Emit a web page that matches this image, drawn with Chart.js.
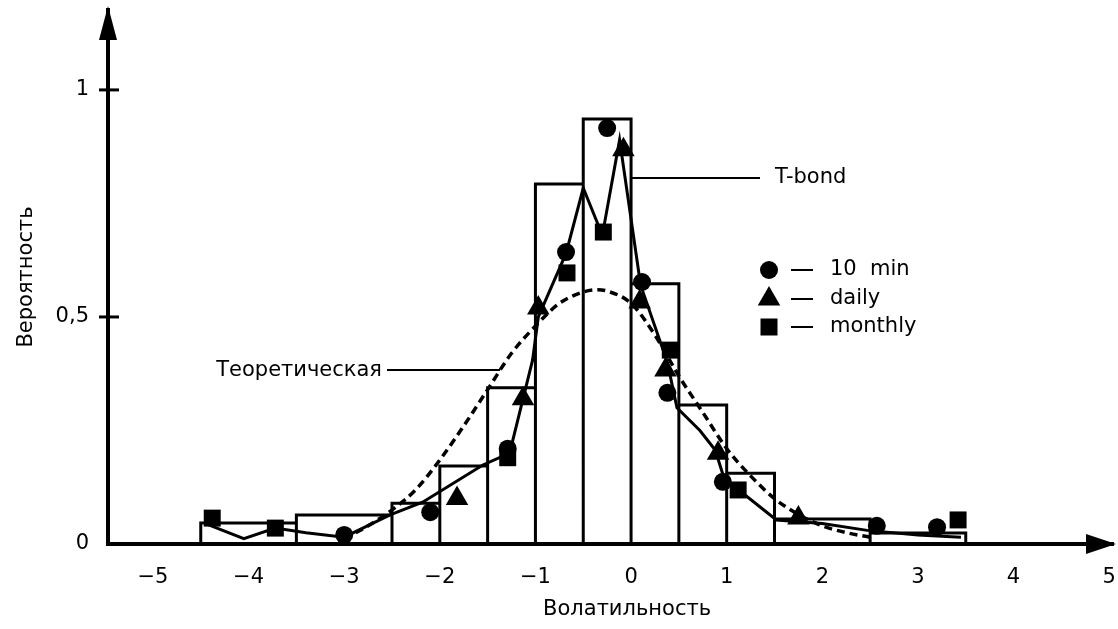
<!DOCTYPE html>
<html>
<head>
<meta charset="utf-8">
<script src="https://cdn.jsdelivr.net/npm/chart.js@4.4.1/dist/chart.umd.min.js"></script>
<style>
  body { margin: 0; background: #fff; }
  canvas { display: block; }
</style>
</head>
<body>
<canvas id="chart" width="1118" height="629"></canvas>
<script>
// T-bond histogram: bin edges and heights
const binLo = [-4.5, -3.5, -2.5, -2, -1.5, -1, -0.5, 0, 0.5, 1, 1.5, 2.5];
const binHi = [-3.5, -2.5, -2, -1.5, -1, -0.5, 0, 0.5, 1, 1.5, 2.5, 3.5];
const binH = [0.046, 0.064, 0.09, 0.172, 0.344, 0.793, 0.936, 0.573, 0.306, 0.156, 0.055, 0.024];

// theoretical density (dashed)
const theoX = [-3.0, -2.75, -2.5, -2.25, -2.0, -1.75, -1.5, -1.25, -1.0, -0.75, -0.5, -0.35, -0.25, 0.0, 0.25, 0.5, 0.75, 1.0, 1.25, 1.5, 1.75, 2.0, 2.25, 2.5];
const theoY = [0.012, 0.04, 0.075, 0.12, 0.185, 0.26, 0.34, 0.42, 0.48, 0.53, 0.555, 0.56, 0.557, 0.53, 0.46, 0.37, 0.29, 0.21, 0.15, 0.10, 0.065, 0.04, 0.025, 0.015];

// empirical curve (solid)
const curveX = [-4.45, -4.05, -3.72, -3.4, -3.0, -2.52, -2.18, -1.55, -1.27, -1.03, -0.97, -0.68, -0.5, -0.3, -0.12, 0.1, 0.38, 0.48, 0.72, 0.88, 0.98, 1.12, 1.52, 2.0, 2.47, 3.0, 3.45];
const curveY = [0.045, 0.012, 0.035, 0.025, 0.015, 0.064, 0.092, 0.174, 0.2, 0.405, 0.5, 0.64, 0.784, 0.68, 0.89, 0.57, 0.40, 0.30, 0.25, 0.207, 0.14, 0.12, 0.053, 0.045, 0.03, 0.02, 0.015];

// markers
const tenMinX = [-3.0, -2.1, -1.29, -0.68, -0.25, 0.115, 0.38, 0.96, 2.57, 3.2];
const tenMinY = [0.02, 0.07, 0.21, 0.643, 0.916, 0.577, 0.333, 0.137, 0.04, 0.037];
const dailyX = [-1.82, -1.13, -0.97, -0.08, 0.09, 0.36, 0.91, 1.75];
const dailyY = [0.10, 0.32, 0.52, 0.868, 0.533, 0.383, 0.2, 0.057];
const monthlyX = [-4.38, -3.72, -1.29, -0.67, -0.29, 0.41, 1.12, 3.42];
const monthlyY = [0.057, 0.035, 0.19, 0.597, 0.687, 0.427, 0.119, 0.053];

const xTicks = [-5, -4, -3, -2, -1, 0, 1, 2, 3, 4, 5];
const yTicks = [0, 0.5, 1];

const FONT = '"DejaVu Sans", sans-serif';
Chart.defaults.font.family = FONT;
Chart.defaults.font.size = 21;
Chart.defaults.color = '#000';

const pts = (xs, ys) => xs.map((x, i) => ({ x, y: ys[i] }));

// each bin as an open rectangle, broken by a gap
const barOutline = [];
binLo.forEach((lo, i) => {
    barOutline.push({ x: lo, y: 0 }, { x: lo, y: binH[i] }, { x: binHi[i], y: binH[i] }, { x: binHi[i], y: 0 }, { x: binHi[i], y: null });
});

const marker = (ctx, style, cx, cy) => {
    ctx.beginPath();
    if (style === 'circle') {
        ctx.arc(cx, cy, 9, 0, Math.PI * 2);
    } else if (style === 'triangle') {
        const r = 13;
        ctx.moveTo(cx, cy - r);
        ctx.lineTo(cx + r * Math.sin(2 * Math.PI / 3), cy - r * Math.cos(2 * Math.PI / 3));
        ctx.lineTo(cx + r * Math.sin(4 * Math.PI / 3), cy - r * Math.cos(4 * Math.PI / 3));
        ctx.closePath();
    } else {
        ctx.rect(cx - 8.5, cy - 8.5, 17, 17);
    }
    ctx.fill();
};

const decor = {
    id: 'decor',
    afterDraw(chart) {
        const { ctx, chartArea: a, scales: { x, y } } = chart;
        ctx.save();
        ctx.fillStyle = '#000';
        ctx.strokeStyle = '#000';

        // arrow heads
        ctx.beginPath();
        ctx.moveTo(a.left, a.top - 4);
        ctx.lineTo(a.left - 9, a.top + 30);
        ctx.lineTo(a.left + 9, a.top + 30);
        ctx.closePath();
        ctx.fill();
        ctx.beginPath();
        ctx.moveTo(a.right + 3, a.bottom);
        ctx.lineTo(a.right - 27, a.bottom - 10);
        ctx.lineTo(a.right - 27, a.bottom + 10);
        ctx.closePath();
        ctx.fill();

        // y tick marks crossing the axis
        ctx.lineWidth = 3;
        yTicks.slice(1).forEach(v => {
            const py = y.getPixelForValue(v);
            ctx.beginPath();
            ctx.moveTo(a.left - 9, py);
            ctx.lineTo(a.left + 11, py);
            ctx.stroke();
        });

        // x tick labels
        ctx.font = '21px ' + FONT;
        ctx.textAlign = 'center';
        ctx.textBaseline = 'middle';
        xTicks.forEach(v => {
            ctx.fillText(String(v).replace('-', '−'), x.getPixelForValue(v), 578);
        });

        // axis titles
        ctx.fillText('Волатильность', x.getPixelForValue(0) - 4, 610);
        ctx.save();
        ctx.translate(27, (a.top + a.bottom) / 2);
        ctx.rotate(-Math.PI / 2);
        ctx.fillText('Вероятность', 0, 0);
        ctx.restore();

        // leaders
        ctx.lineWidth = 2;
        const ty = y.getPixelForValue(0.383);
        ctx.beginPath();
        ctx.moveTo(387, ty);
        ctx.lineTo(x.getPixelForValue(-1.37), ty);
        ctx.stroke();
        ctx.textAlign = 'right';
        ctx.fillText('Теоретическая', 382, ty);

        const by = y.getPixelForValue(0.806);
        ctx.beginPath();
        ctx.moveTo(x.getPixelForValue(0), by);
        ctx.lineTo(760, by);
        ctx.stroke();
        ctx.textAlign = 'left';
        ctx.fillText('T-bond', 775, by);

        // legend
        const items = [['circle', '10  min', 270], ['triangle', 'daily', 299], ['rect', 'monthly', 327]];
        items.forEach(([style, label, ly]) => {
            marker(ctx, style, 769, ly);
            ctx.beginPath();
            ctx.moveTo(791, ly);
            ctx.lineTo(813, ly);
            ctx.stroke();
            ctx.fillText(label, 830, ly);
        });
        ctx.restore();
    }
};

new Chart(document.getElementById('chart'), {
    type: 'scatter',
    data: {
        datasets: [
            {
                data: pts(tenMinX, tenMinY), pointStyle: 'circle', pointRadius: 9,
                backgroundColor: '#000', borderColor: '#000', borderWidth: 0, order: 0
            },
            {
                data: pts(dailyX, dailyY), pointStyle: 'triangle', pointRadius: 13,
                backgroundColor: '#000', borderColor: '#000', borderWidth: 0, order: 0
            },
            {
                data: pts(monthlyX, monthlyY), pointStyle: 'rect', pointRadius: 12,
                backgroundColor: '#000', borderColor: '#000', borderWidth: 0, order: 0
            },
            {
                data: pts(curveX, curveY), showLine: true, pointRadius: 0,
                borderColor: '#000', borderWidth: 3, tension: 0, order: 1
            },
            {
                data: pts(theoX, theoY), showLine: true, pointRadius: 0,
                borderColor: '#000', borderWidth: 3.5, borderDash: [8, 5],
                cubicInterpolationMode: 'monotone', order: 2
            },
            {
                data: barOutline, showLine: true, spanGaps: false, pointRadius: 0,
                borderColor: '#000', borderWidth: 3, borderJoinStyle: 'miter', order: 3
            }
        ]
    },
    options: {
        responsive: false,
        animation: false,
        layout: { autoPadding: false, padding: { top: 10, right: 5, left: 0, bottom: 0 } },
        plugins: { legend: { display: false }, tooltip: { enabled: false } },
        scales: {
            x: {
                type: 'linear', min: -5.47, max: 5.04,
                afterBuildTicks: s => { s.ticks = xTicks.map(v => ({ value: v })); },
                afterFit: s => { s.height = 85; },
                grid: { display: false },
                border: { display: true, color: '#000', width: 4 },
                // labels are drawn by the decor plugin
                ticks: { display: false }
            },
            y: {
                type: 'linear', min: 0, max: 1.176,
                afterBuildTicks: s => { s.ticks = yTicks.map(v => ({ value: v })); },
                afterFit: s => { s.width = 108; s.paddingTop = 0; s.paddingBottom = 0; },
                grid: { display: false },
                border: { display: true, color: '#000', width: 4 },
                ticks: { padding: 11, callback: v => String(v).replace('.', ',') }
            }
        }
    },
    plugins: [decor]
});
</script>
</body>
</html>
